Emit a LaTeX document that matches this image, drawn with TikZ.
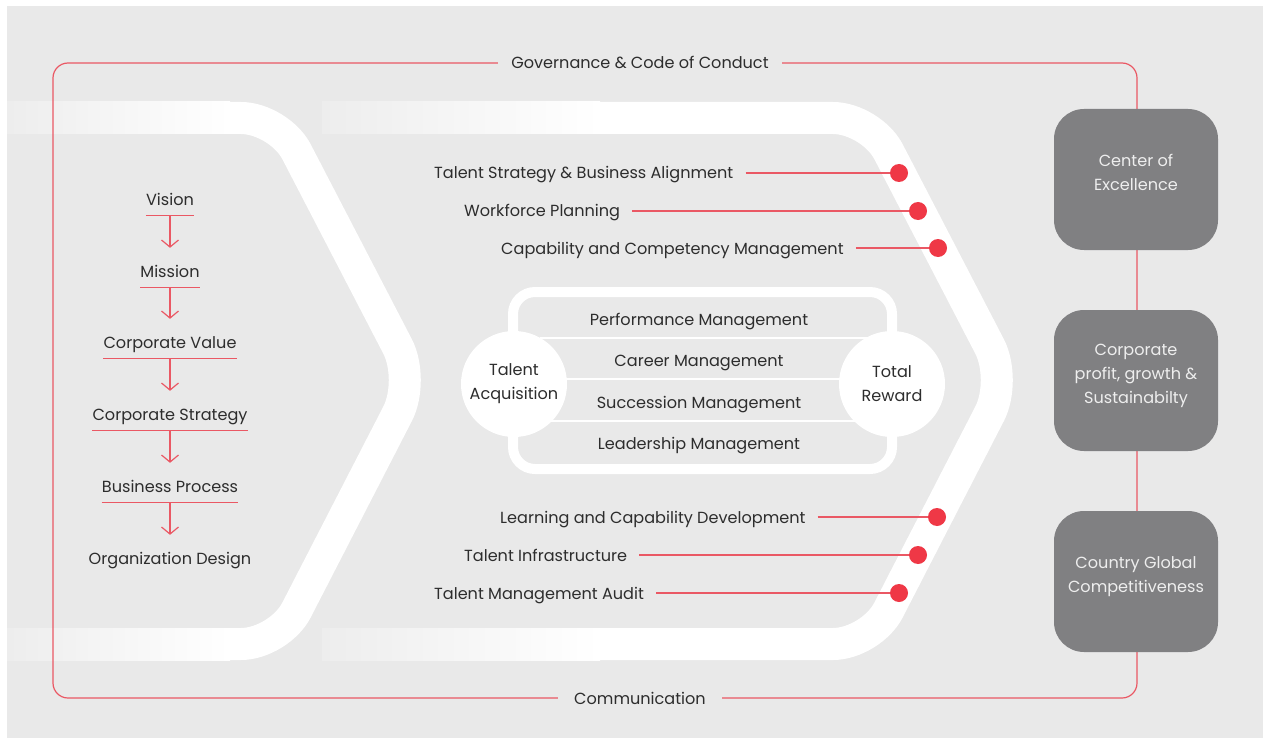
\documentclass[tikz,border=0pt]{standalone}
\usepackage{fontspec}
\setmainfont{Poppins}
\usetikzlibrary{arrows.meta}
\definecolor{bggray}{RGB}{233,233,233}
\definecolor{fadegray}{RGB}{237,237,237}
\definecolor{framered}{RGB}{234,88,100}
\definecolor{dotred}{RGB}{239,56,70}
\definecolor{boxgray}{RGB}{128,128,130}
\definecolor{txtdark}{RGB}{45,45,45}
\definecolor{boxtxt}{RGB}{238,238,238}
\begin{document}
\begin{tikzpicture}[x=1pt,y=-1pt,
  lbl/.style={text=txtdark,font=\fontsize{16.1}{24}\selectfont,text height=14pt,text depth=2pt},
  flowlbl/.style={lbl,inner xsep=0pt,inner ysep=8pt},
  item/.style={lbl,inner sep=0pt,anchor=west},
  dot/.style={circle,fill=dotred,inner sep=0pt,minimum size=18pt},
  redline/.style={framered,line width=1.2pt,shorten <=12pt},
  flowarrow/.style={framered,line width=1.2pt,-{Straight Barb[length=7pt,width=17pt]},shorten >=7pt},
  band/.style={white,line width=32pt,rounded corners=38pt},
  roundcirc/.style={circle,fill=white,minimum size=106pt,inner sep=0pt,align=center,text=txtdark,
    font=\fontsize{16.1}{24}\selectfont},
  goalbox/.style={rounded corners=30pt,fill=boxgray,minimum width=164pt,minimum height=141pt,
    align=center,text=boxtxt,text depth=14pt,font=\fontsize{16.1}{24}\selectfont}]
\useasboundingbox (0,0) rectangle (1263,738);
\fill[white] (0,0) rectangle (1263,738);
\fill[bggray] (7,6) rectangle (1263,738);

% chevron bands
\draw[band] (200,118) -- (279,118) -- (415,380) -- (279,644) -- (200,644);
\shade[left color=fadegray,right color=white] (7,102) rectangle (230,134);
\shade[left color=fadegray,right color=white] (7,628) rectangle (230,660);
\draw[band] (560,118) -- (871,118) -- (1007,380) -- (871,644) -- (560,644);
\shade[left color=fadegray,right color=white] (322,102) rectangle (600,134);
\shade[left color=fadegray,right color=white] (322,628) rectangle (600,660);

% outer frame
\draw[framered,line width=1.2pt,rounded corners=15pt] (53,63) rectangle (1137,698);
\node[lbl,fill=bggray,inner xsep=13pt] (gov) at (640,63) {Governance \& Code of Conduct};
\node[lbl,fill=bggray,inner xsep=16pt] (comm) at (640,698) {Communication};

% left flow
\node[flowlbl] (vis) at (170,199) {Vision};
\node[flowlbl] (mis) at (170,271) {Mission};
\node[flowlbl] (cval) at (170,342) {Corporate Value};
\node[flowlbl] (cstr) at (170,414) {Corporate Strategy};
\node[flowlbl] (bproc) at (170,486) {Business Process};
\node[flowlbl] (odes) at (170,558) {Organization Design};
\draw[framered,line width=1.2pt] (vis.south west) -- (vis.south east);
\draw[framered,line width=1.2pt] (mis.south west) -- (mis.south east);
\draw[framered,line width=1.2pt] (cval.south west) -- (cval.south east);
\draw[framered,line width=1.2pt] (cstr.south west) -- (cstr.south east);
\draw[framered,line width=1.2pt] (bproc.south west) -- (bproc.south east);
\draw[flowarrow] (vis.south) -- (mis.north);
\draw[flowarrow] (mis.south) -- (cval.north);
\draw[flowarrow] (cval.south) -- (cstr.north);
\draw[flowarrow] (cstr.south) -- (bproc.north);
\draw[flowarrow] (bproc.south) -- (odes.north);

% talent items
\node[item] (tsba) at (434,173) {Talent Strategy \& Business Alignment};
\node[item] (wfp) at (464,211) {Workforce Planning};
\node[item] (ccm) at (501,248) {Capability and Competency Management};
\node[item] (lcd) at (500,517) {Learning and Capability Development};
\node[item] (tinf) at (464,555) {Talent Infrastructure};
\node[item] (tma) at (434,593) {Talent Management Audit};
\node[dot] (d1) at (899,173) {};
\node[dot] (d2) at (918,211) {};
\node[dot] (d3) at (938,248) {};
\node[dot] (d4) at (937,517) {};
\node[dot] (d5) at (918,555) {};
\node[dot] (d6) at (899,593) {};
\draw[redline] (tsba.east) -- (d1);
\draw[redline] (wfp.east) -- (d2);
\draw[redline] (ccm.east) -- (d3);
\draw[redline] (lcd.east) -- (d4);
\draw[redline] (tinf.east) -- (d5);
\draw[redline] (tma.east) -- (d6);

% core processes
\draw[white,line width=10pt,rounded corners=22pt] (513,292) rectangle (892,469);
\draw[white,line width=1.5pt] (540,338) -- (870,338);
\draw[white,line width=1.5pt] (540,379) -- (870,379);
\draw[white,line width=1.5pt] (540,421) -- (870,421);
\node[lbl] (perf) at (699,319) {Performance Management};
\node[lbl] (career) at (699,360) {Career Management};
\node[lbl] (succ) at (699,402) {Succession Management};
\node[lbl] (lead) at (699,443) {Leadership Management};
\node[roundcirc] (tacq) at (514,384) {Talent\\Acquisition};
\node[roundcirc] (trew) at (892,384) {Total\\Reward};

% outcomes
\node[goalbox] (coe) at (1136,179.5) {Center of\\Excellence};
\node[goalbox] (cpgs) at (1136,380.5) {Corporate\\profit, growth \&\\Sustainabilty};
\node[goalbox] (cgc) at (1136,581.5) {Country Global\\Competitiveness};
\end{tikzpicture}
\end{document}
